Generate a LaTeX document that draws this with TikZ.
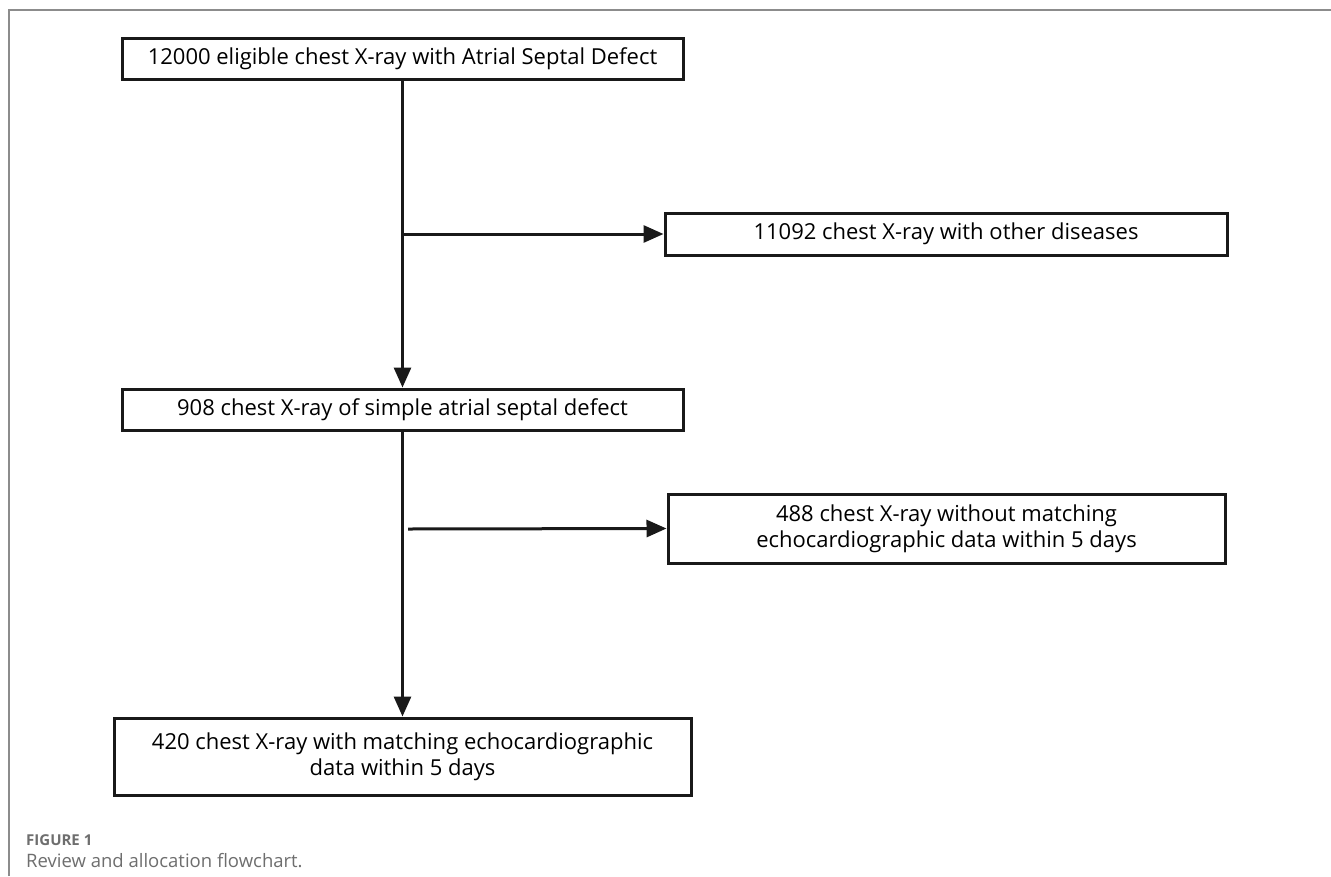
\documentclass[tikz,border=0pt]{standalone}
\usepackage{fontspec}
\setmainfont{Open Sans}
\usetikzlibrary{arrows.meta}
\definecolor{capgray}{RGB}{110,110,110}
\definecolor{linegray}{RGB}{140,140,140}
\tikzset{
  box/.style={draw=black!90, line width=3pt, inner sep=0pt, align=center, font=\fontsize{22}{26}\selectfont},
  conn/.style={draw=black!90, line width=3pt, -{Triangle[length=20pt,width=17pt]}},
}
\begin{document}
\begin{tikzpicture}[x=1pt,y=-1pt]
\useasboundingbox (0,0) rectangle (1331,876);
\fill[white] (0,0) rectangle (1331,876);
\draw[linegray, line width=1.5pt] (9,876) -- (9,10) -- (1331,10);
\node[box, minimum width=561pt, minimum height=41pt] (a) at (402.5,58.5) {12000 eligible chest X-ray with Atrial Septal Defect};
\node[box, minimum width=562pt, minimum height=42pt] (b) at (946,234) {11092 chest X-ray with other diseases};
\node[box, minimum width=561pt, minimum height=41pt] (c) at (402.5,409.5) {908 chest X-ray of simple atrial septal defect};
\node[box, minimum width=557pt, minimum height=69pt] (d) at (946.5,528.5) {488 chest X-ray without matching\\echocardiographic data within 5 days};
\node[box, minimum width=577pt, minimum height=77pt] (e) at (402.5,756.5) {420 chest X-ray with matching echocardiographic\\data within 5 days};
\coordinate (j1) at (402.5,234);
\coordinate (j2) at (408,529);
\draw[conn] (a.south) -- (c.north);
\draw[conn] (j1) -- (b.west);
\draw[conn] (c.south) -- (e.north);
\draw[conn] (j2) -- (d.west);
\node[anchor=base west, text=capgray, font=\fontsize{15}{18}\selectfont\bfseries, inner sep=0pt] (f1) at (26,845) {FIGURE 1};
\node[anchor=base west, text=capgray, font=\fontsize{18.5}{22}\selectfont, inner sep=0pt] (f2) at (26,867) {Review and allocation flowchart.};
\end{tikzpicture}
\end{document}
